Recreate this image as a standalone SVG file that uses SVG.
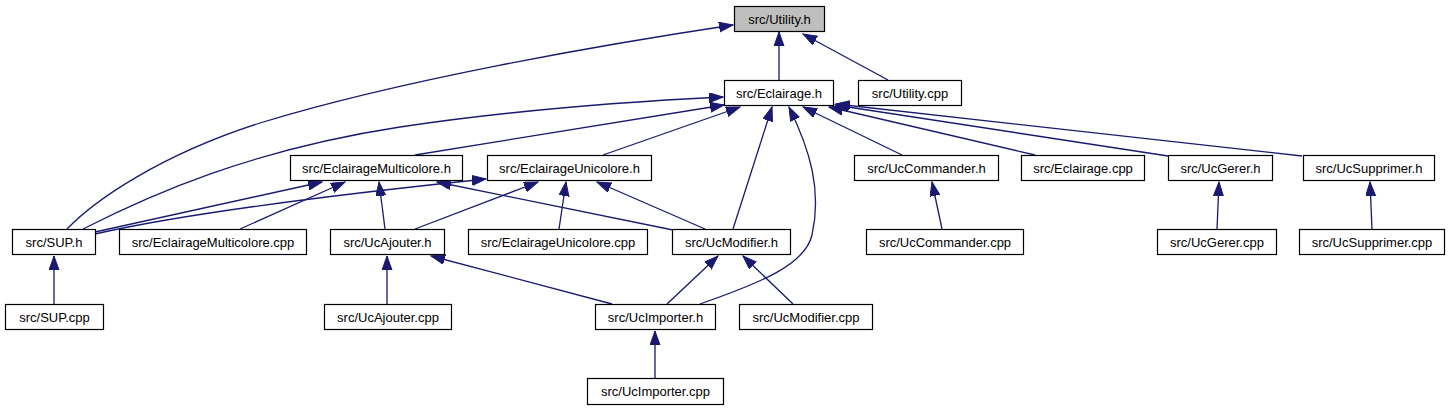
<svg xmlns="http://www.w3.org/2000/svg" width="1451" height="411" viewBox="0 0 1451 411">
<style>
.n rect{fill:#ffffff;stroke:#000000;stroke-width:1.2}
.n.root rect{fill:#bfbfbf;stroke:#000000}
.n text{font-family:"Liberation Sans",Arial,sans-serif;font-size:13px;fill:#000000;text-anchor:middle}
.e path{fill:none;stroke:#191970;stroke-width:1.3;marker-end:url(#ah)}
</style>
<defs>
<marker id="ah" markerUnits="userSpaceOnUse" markerWidth="15" markerHeight="11" refX="14" refY="5" orient="auto" viewBox="0 0 15 11">
<path d="M0,0 L14,5 L0,10 z" fill="#191970" stroke="#191970" stroke-width="1"/>
</marker>
</defs>
<rect width="1451" height="411" fill="#ffffff"/>
<g id="edges" class="e">
<path d="M779,80 L779,32"/>
<path d="M888,80 L803,34"/>
<path d="M67,229 C95,200 160,155 260,123 C400,80 600,45 733,25"/>
<path d="M83,229 C150,195 250,150 400,127 C500,112 620,102 723,97"/>
<path d="M415,155 L724,105"/>
<path d="M603,155 L740,107"/>
<path d="M733,229 L772,107"/>
<path d="M700,304 C760,283 805,265 812,235 C822,190 810,150 789,107"/>
<path d="M902,155 L803,107"/>
<path d="M1035,155 L829,107"/>
<path d="M1168,156 L835,105"/>
<path d="M1302,156 L836,104"/>
<path d="M95,232 L322,182"/>
<path d="M95,234 C200,210 380,190 486,179"/>
<path d="M240,229 L345,182"/>
<path d="M385,229 L379,182"/>
<path d="M673,230 L437,182"/>
<path d="M415,229 L538,182"/>
<path d="M559,229 L566,182"/>
<path d="M705,229 L597,182"/>
<path d="M942,229 L932,182"/>
<path d="M1217,229 L1219,182"/>
<path d="M1372,229 L1370,182"/>
<path d="M54,304 L54,256"/>
<path d="M387,304 L387,256"/>
<path d="M612,304 L431,256"/>
<path d="M667,304 L718,256"/>
<path d="M793,304 L743,256"/>
<path d="M655,378 L655,331"/>
</g>
<g id="n_utility_h" class="n root"><rect x="734.5" y="6.5" width="90" height="25"/><text x="779.5" y="23.5">src/Utility.h</text></g>
<g id="n_eclairage_h" class="n"><rect x="724.5" y="80.5" width="109" height="25"/><text x="779" y="97.5">src/Eclairage.h</text></g>
<g id="n_utility_cpp" class="n"><rect x="858.5" y="80.5" width="103" height="25"/><text x="910" y="97.5">src/Utility.cpp</text></g>
<g id="n_eclmulti_h" class="n"><rect x="290.5" y="155.5" width="172" height="25"/><text x="376.5" y="172.5">src/EclairageMulticolore.h</text></g>
<g id="n_ecluni_h" class="n"><rect x="487.5" y="155.5" width="164" height="25"/><text x="569.5" y="172.5">src/EclairageUnicolore.h</text></g>
<g id="n_uccommander_h" class="n"><rect x="854.5" y="155.5" width="144" height="25"/><text x="926.5" y="172.5">src/UcCommander.h</text></g>
<g id="n_eclairage_cpp" class="n"><rect x="1021.5" y="155.5" width="123" height="25"/><text x="1083" y="172.5">src/Eclairage.cpp</text></g>
<g id="n_ucgerer_h" class="n"><rect x="1168.5" y="155.5" width="104" height="25"/><text x="1220.5" y="172.5">src/UcGerer.h</text></g>
<g id="n_ucsupprimer_h" class="n"><rect x="1303.5" y="155.5" width="131" height="25"/><text x="1369" y="172.5">src/UcSupprimer.h</text></g>
<g id="n_sup_h" class="n"><rect x="12.5" y="229.5" width="83" height="25"/><text x="54" y="246.5">src/SUP.h</text></g>
<g id="n_eclmulti_cpp" class="n"><rect x="119.5" y="229.5" width="187" height="25"/><text x="213" y="246.5">src/EclairageMulticolore.cpp</text></g>
<g id="n_ucajouter_h" class="n"><rect x="330.5" y="229.5" width="114" height="25"/><text x="387.5" y="246.5">src/UcAjouter.h</text></g>
<g id="n_ecluni_cpp" class="n"><rect x="468.5" y="229.5" width="179" height="25"/><text x="558" y="246.5">src/EclairageUnicolore.cpp</text></g>
<g id="n_ucmodifier_h" class="n"><rect x="672.5" y="229.5" width="118" height="25"/><text x="731.5" y="246.5">src/UcModifier.h</text></g>
<g id="n_uccommander_cpp" class="n"><rect x="866.5" y="229.5" width="157" height="25"/><text x="945" y="246.5">src/UcCommander.cpp</text></g>
<g id="n_ucgerer_cpp" class="n"><rect x="1157.5" y="229.5" width="119" height="25"/><text x="1217" y="246.5">src/UcGerer.cpp</text></g>
<g id="n_ucsupprimer_cpp" class="n"><rect x="1299.5" y="229.5" width="145" height="25"/><text x="1372" y="246.5">src/UcSupprimer.cpp</text></g>
<g id="n_sup_cpp" class="n"><rect x="5.5" y="304.5" width="98" height="25"/><text x="54.5" y="321.5">src/SUP.cpp</text></g>
<g id="n_ucajouter_cpp" class="n"><rect x="324.5" y="304.5" width="127" height="25"/><text x="388" y="321.5">src/UcAjouter.cpp</text></g>
<g id="n_ucimporter_h" class="n"><rect x="595.5" y="304.5" width="120" height="25"/><text x="655.5" y="321.5">src/UcImporter.h</text></g>
<g id="n_ucmodifier_cpp" class="n"><rect x="739.5" y="304.5" width="133" height="25"/><text x="806" y="321.5">src/UcModifier.cpp</text></g>
<g id="n_ucimporter_cpp" class="n"><rect x="587.5" y="378.5" width="136" height="26"/><text x="655.5" y="396">src/UcImporter.cpp</text></g>
</svg>
